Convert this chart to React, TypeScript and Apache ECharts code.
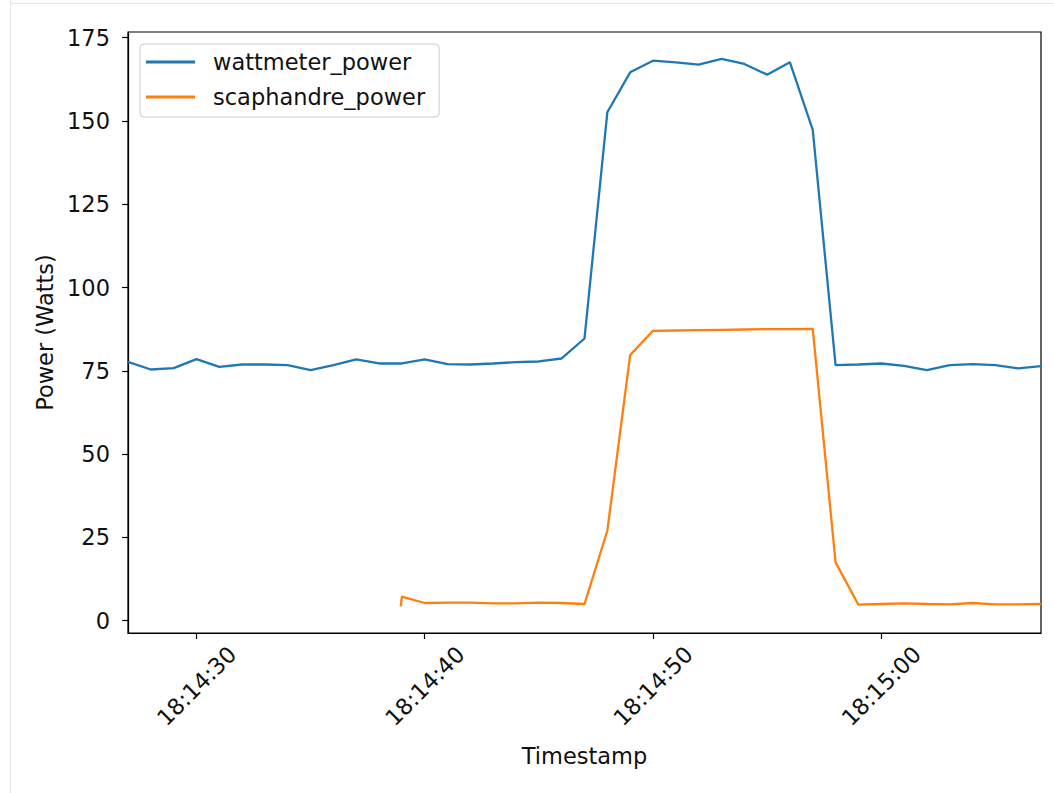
import React, { useEffect, useRef } from "react";
import * as echarts from "echarts";

const wattmeterTimes = [
  "18:14:27", "18:14:28", "18:14:29", "18:14:30", "18:14:31", "18:14:32", "18:14:33",
  "18:14:34", "18:14:35", "18:14:36", "18:14:37", "18:14:38", "18:14:39", "18:14:40",
  "18:14:41", "18:14:42", "18:14:43", "18:14:44", "18:14:45", "18:14:46", "18:14:47",
  "18:14:48", "18:14:49", "18:14:50", "18:14:51", "18:14:52", "18:14:53", "18:14:54",
  "18:14:55", "18:14:56", "18:14:57", "18:14:58", "18:14:59", "18:15:00", "18:15:01",
  "18:15:02", "18:15:03", "18:15:04", "18:15:05", "18:15:06", "18:15:07",
];
const wattmeterPower = [
  77.7, 75.4, 75.8, 78.5, 76.2, 76.9, 76.9,
  76.7, 75.2, 76.7, 78.4, 77.2, 77.2, 78.4,
  77.0, 76.9, 77.2, 77.6, 77.8, 78.7, 84.7,
  152.6, 164.6, 168.1, 167.6, 166.9, 168.6, 167.1,
  163.9, 167.6, 147.3, 76.7, 76.9, 77.2, 76.5,
  75.2, 76.7, 77.0, 76.7, 75.7, 76.4,
];

const scaphandreTimes = [
  "18:14:38.95", "18:14:39", "18:14:40", "18:14:41", "18:14:42", "18:14:43", "18:14:44",
  "18:14:45", "18:14:46", "18:14:47", "18:14:48", "18:14:49", "18:14:50", "18:14:51",
  "18:14:52", "18:14:53", "18:14:54", "18:14:55", "18:14:56", "18:14:57", "18:14:58",
  "18:14:59", "18:15:00", "18:15:01", "18:15:02", "18:15:03", "18:15:04", "18:15:05",
  "18:15:06", "18:15:07",
];
const scaphandrePower = [
  4.3, 7.2, 5.3, 5.4, 5.4, 5.2, 5.2,
  5.4, 5.3, 5.0, 27.0, 79.7, 87.0, 87.1,
  87.2, 87.3, 87.4, 87.5, 87.5, 87.6, 17.5,
  4.8, 5.0, 5.2, 5.0, 4.9, 5.3, 4.9,
  4.9, 5.0,
];

const seriesNames = ["wattmeter_power", "scaphandre_power"];
const yTickValues = [0, 25, 50, 75, 100, 125, 150, 175];
const xTickLabels = ["18:14:30", "18:14:40", "18:14:50", "18:15:00"];

function toSec(t: string): number {
  const [h, m, s] = t.split(":");
  return Number(h) * 3600 + Number(m) * 60 + parseFloat(s);
}
function pad(n: number): string {
  return n < 10 ? "0" + n : String(n);
}
function fmtTime(v: number): string {
  const r = Math.round(v);
  const h = Math.floor(r / 3600);
  const m = Math.floor((r % 3600) / 60);
  const s = r % 60;
  return `${pad(h)}:${pad(m)}:${pad(s)}`;
}

const FONT = "DejaVu Sans";
const FS = 22.5;
const TEXT = "#111";

export default function App() {
  const ref = useRef<HTMLDivElement>(null);
  useEffect(() => {
    if (!ref.current) return;
    const chart = echarts.init(ref.current, undefined, { renderer: "svg" });
    const blue = "#1f77b4";
    const orange = "#ff7f0e";
    chart.setOption({
      animation: false,
      backgroundColor: "#fff",
      textStyle: { fontFamily: FONT },
      grid: {
        left: 128,
        top: 32,
        width: 913,
        height: 601,
        containLabel: false,
        show: true,
        borderColor: "#000",
        borderWidth: 1.2,
        backgroundColor: "transparent",
      },
      legend: {
        orient: "vertical",
        left: 140,
        top: 44,
        padding: [5, 14, 7, 6],
        itemGap: 9,
        icon: "rect",
        itemWidth: 49,
        itemHeight: 3,
        backgroundColor: "#fff",
        borderColor: "#cccccc",
        borderWidth: 1,
        borderRadius: 4,
        data: seriesNames,
        textStyle: {
          fontFamily: FONT,
          fontSize: FS,
          color: TEXT,
          lineHeight: 26,
          padding: [0, 0, 0, 13],
        },
      },
      xAxis: {
        type: "value",
        min: "dataMin",
        max: "dataMax",
        name: "Timestamp",
        nameLocation: "middle",
        nameGap: 111,
        nameTextStyle: { fontFamily: FONT, fontSize: FS, color: TEXT },
        axisLine: { show: true, onZero: false, lineStyle: { color: "#000", width: 1.2 } },
        axisTick: {
          show: true,
          length: 6,
          inside: false,
          customValues: xTickLabels.map(toSec),
          lineStyle: { color: "#000", width: 1.2 },
        },
        axisLabel: {
          customValues: xTickLabels.map(toSec),
          formatter: (v: number) => fmtTime(v),
          rotate: 45,
          align: "center",
          verticalAlign: "middle",
          margin: 53,
          fontFamily: FONT,
          fontSize: FS,
          color: TEXT,
        },
        splitLine: { show: false },
      },
      yAxis: {
        type: "value",
        min: -3.7,
        max: 176.7,
        name: "Power (Watts)",
        nameLocation: "middle",
        nameGap: 68,
        nameRotate: 90,
        nameTextStyle: { fontFamily: FONT, fontSize: FS, color: TEXT },
        axisLine: { show: true, onZero: false, lineStyle: { color: "#000", width: 1.2 } },
        axisTick: {
          show: true,
          length: 6,
          inside: false,
          customValues: yTickValues,
          lineStyle: { color: "#000", width: 1.2 },
        },
        axisLabel: {
          customValues: yTickValues,
          margin: 18,
          fontFamily: FONT,
          fontSize: FS,
          color: TEXT,
        },
        splitLine: { show: false },
      },
      graphic: [
        { type: "line", shape: { x1: 10.5, y1: 0, x2: 10.5, y2: 793 }, style: { stroke: "#e4e4e4", lineWidth: 1 } },
        { type: "line", shape: { x1: 10, y1: 3.5, x2: 1054, y2: 3.5 }, style: { stroke: "#e4e4e4", lineWidth: 1 } },
      ],
      series: [
        {
          name: seriesNames[0],
          type: "line",
          symbol: "none",
          color: blue,
          lineStyle: { color: blue, width: 2.3 },
          data: wattmeterTimes.map((t, i) => [toSec(t), wattmeterPower[i]]),
        },
        {
          name: seriesNames[1],
          type: "line",
          symbol: "none",
          color: orange,
          lineStyle: { color: orange, width: 2.3 },
          data: scaphandreTimes.map((t, i) => [toSec(t), scaphandrePower[i]]),
        },
      ],
    });
    return () => chart.dispose();
  }, []);
  return (
    <div
      ref={ref}
      style={{ position: "fixed", left: 0, top: 0, width: 1054, height: 793 }}
    />
  );
}
